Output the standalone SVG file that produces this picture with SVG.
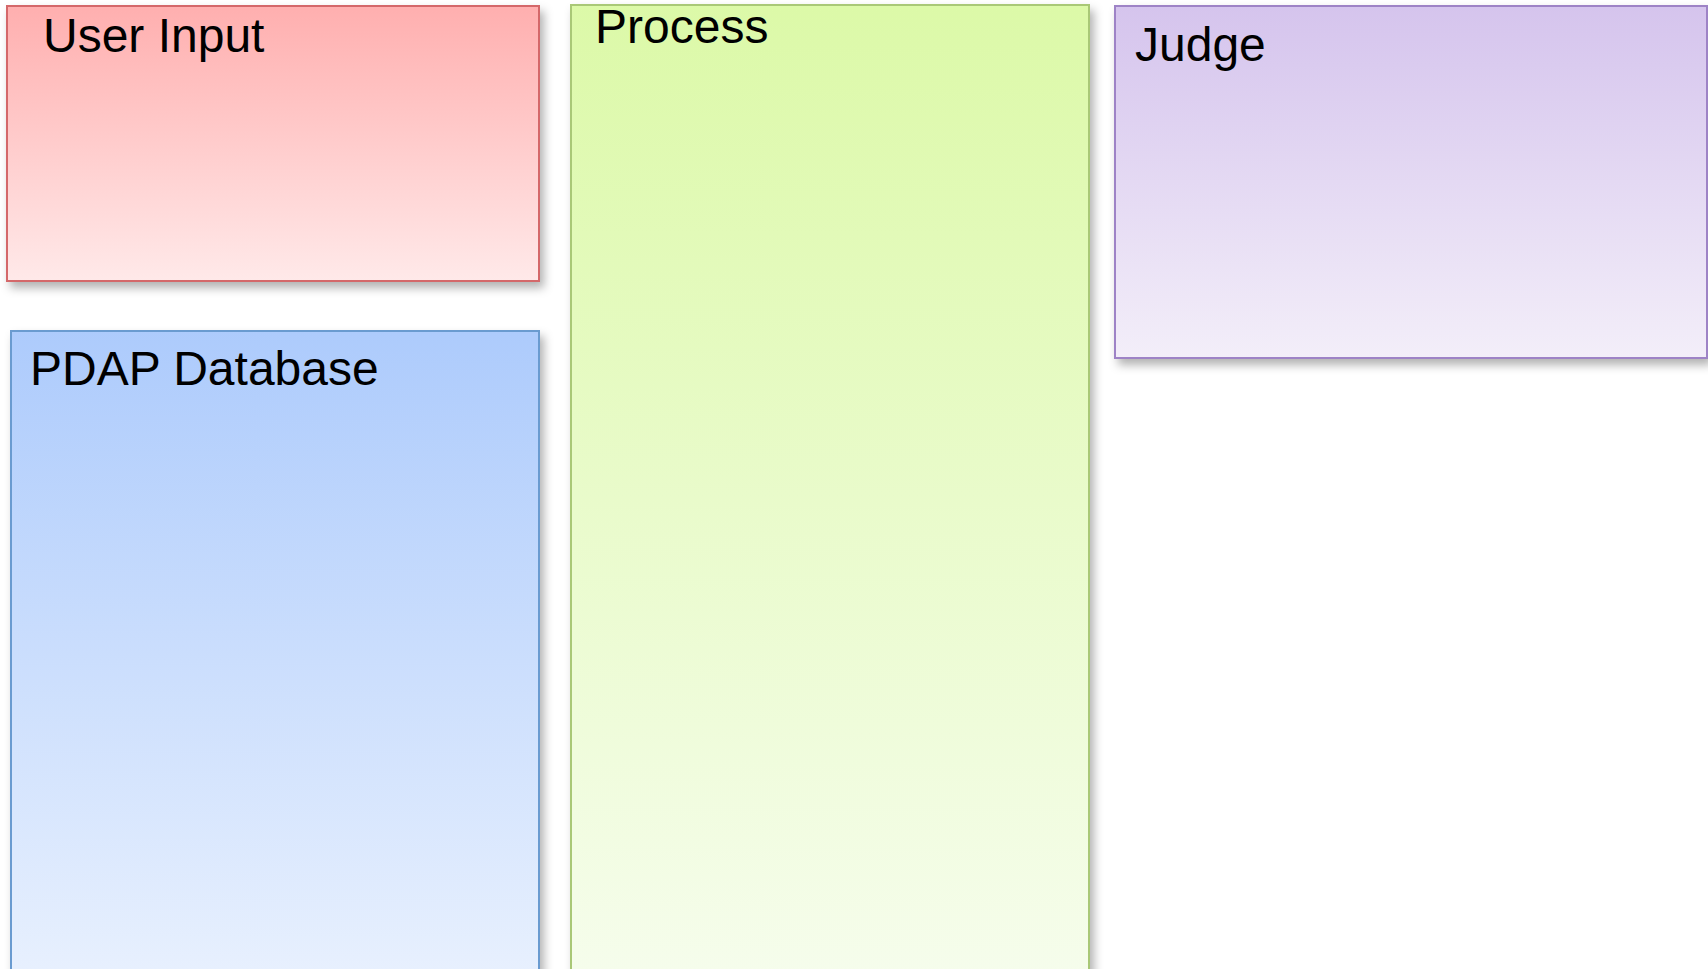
<svg xmlns="http://www.w3.org/2000/svg" width="1708" height="969" viewBox="0 0 1708 969">
<style>
text{font-family:"Liberation Sans",Arial,sans-serif;font-size:48px;fill:#000}
rect.box{stroke-width:2}
</style>
<defs>
<linearGradient id="gRed" x1="0" y1="0" x2="0" y2="1"><stop offset="0" stop-color="#ffafaf"/><stop offset="1" stop-color="#ffe9e9"/></linearGradient>
<linearGradient id="gBlue" x1="0" y1="0" x2="0" y2="1"><stop offset="0" stop-color="#adcbfc"/><stop offset="1" stop-color="#e9f1fe"/></linearGradient>
<linearGradient id="gGreen" x1="0" y1="0" x2="0" y2="1"><stop offset="0" stop-color="#dcf9a8"/><stop offset="1" stop-color="#f6fded"/></linearGradient>
<linearGradient id="gPurple" x1="0" y1="0" x2="0" y2="1"><stop offset="0" stop-color="#d5c4ed"/><stop offset="1" stop-color="#f3eef9"/></linearGradient>
<filter id="shadow" x="-5%" y="-5%" width="115%" height="120%"><feDropShadow dx="4" dy="6" stdDeviation="5" flood-color="#000" flood-opacity="0.3"/></filter>
</defs>
<g id="user-input">
<rect class="box" x="7" y="6" width="532" height="275" fill="url(#gRed)" stroke="#d4686a" filter="url(#shadow)"/>
<text x="43" y="52">User Input</text>
</g>
<g id="pdap-database">
<rect class="box" x="11" y="331" width="528" height="660" fill="url(#gBlue)" stroke="#6a9bd0" filter="url(#shadow)"/>
<text x="30" y="385">PDAP Database</text>
</g>
<g id="process">
<rect class="box" x="571" y="5" width="518" height="986" fill="url(#gGreen)" stroke="#a9c877" filter="url(#shadow)"/>
<text x="595" y="43">Process</text>
</g>
<g id="judge">
<rect class="box" x="1115" y="6" width="592" height="352" fill="url(#gPurple)" stroke="#9e83c6" filter="url(#shadow)"/>
<text x="1135" y="61">Judge</text>
</g>
<g id="connectors"></g>
</svg>
